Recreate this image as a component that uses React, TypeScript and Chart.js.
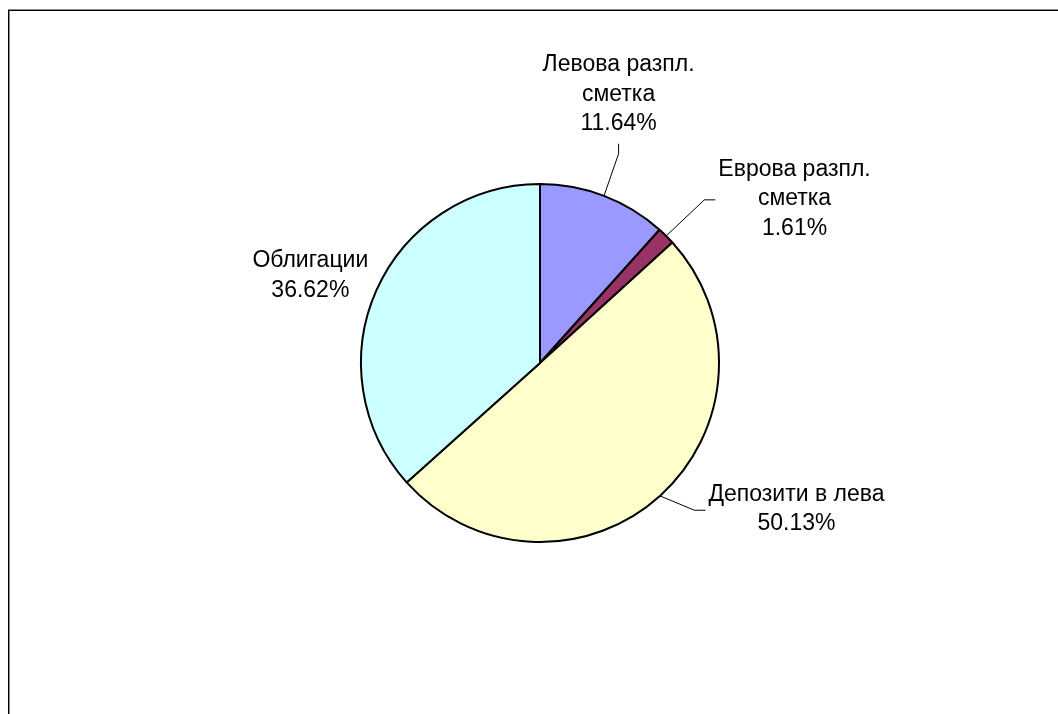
import React, { useEffect, useRef } from "react";
import { Chart, registerables } from "chart.js";

Chart.register(...registerables);

// ---- data ----
const CATEGORIES: string[][] = [
  ["Левова разпл.", "сметка"],
  ["Еврова разпл.", "сметка"],
  ["Депозити в лева"],
  ["Облигации"],
];
const VALUES: number[] = [11.64, 1.61, 50.13, 36.62];
const COLORS: string[] = ["#9999FF", "#993366", "#FFFFCC", "#CCFFFF"];

// ---- label layout (text block centre relative to pie centre, in radius units) ----
const LABEL_LAYOUT = [
  { cx: 0.439, cy: -1.5, leader: "bottom" },
  { cx: 1.422, cy: -0.917, leader: "left" },
  { cx: 1.433, cy: 0.817, leader: "left" },
  { cx: -1.283, cy: -0.489, leader: "none" },
];
const FONT = "23px 'Liberation Sans', Arial, sans-serif";
const LINE_H = 29.5;

const framePlugin = {
  id: "frame",
  beforeDraw(chart: any) {
    const { ctx, width, height } = chart;
    ctx.save();
    ctx.fillStyle = "#ffffff";
    ctx.fillRect(0, 0, width, height);
    ctx.fillStyle = "#888888";
    ctx.fillRect(8, 9, width - 8, 1);
    ctx.fillRect(9, 10, 1, height - 10);
    ctx.fillStyle = "#000000";
    ctx.fillRect(8, 10, width - 8, 1);
    ctx.fillRect(8, 10, 1, height - 10);
    ctx.restore();
  },
};

const labelPlugin = {
  id: "pieLabels",
  afterDatasetsDraw(chart: any) {
    const ctx = chart.ctx;
    const meta = chart.getDatasetMeta(0);
    ctx.save();
    ctx.font = FONT;
    ctx.fillStyle = "#000";
    ctx.strokeStyle = "#000";
    ctx.lineWidth = 1;
    ctx.textAlign = "center";
    ctx.textBaseline = "middle";
    meta.data.forEach((arc: any, i: number) => {
      const { x, y, startAngle, endAngle, outerRadius } = arc.getProps(
        ["x", "y", "startAngle", "endAngle", "outerRadius"],
        true
      );
      const mid = (startAngle + endAngle) / 2;
      const lines = [...CATEGORIES[i], VALUES[i].toFixed(2) + "%"];
      const L = LABEL_LAYOUT[i];
      const tx = x + L.cx * outerRadius;
      const ty = y + L.cy * outerRadius;
      const n = lines.length;
      lines.forEach((t, k) => ctx.fillText(t, tx, ty + (k - (n - 1) / 2) * LINE_H));
      if (L.leader !== "none") {
        const sx = x + Math.cos(mid) * outerRadius;
        const sy = y + Math.sin(mid) * outerRadius;
        let ex: number, ey: number, bx: number, by: number;
        if (L.leader === "bottom") {
          ex = tx;
          ey = ty + (n * LINE_H) / 2 + 5;
          bx = ex;
          by = ey + 10;
        } else {
          const w = Math.max(...lines.map((t) => ctx.measureText(t).width));
          ex = tx - w / 2 - 3;
          ey = ty + 1;
          bx = ex - 11;
          by = ey;
        }
        ctx.beginPath();
        ctx.moveTo(sx, sy);
        ctx.lineTo(bx, by);
        ctx.lineTo(ex, ey);
        ctx.stroke();
      }
    });
    ctx.restore();
  },
};

export default function App() {
  const ref = useRef<HTMLCanvasElement>(null);
  useEffect(() => {
    if (!ref.current) return;
    const chart = new Chart(ref.current, {
      type: "pie",
      data: {
        labels: CATEGORIES.map((c) => c.join(" ")),
        datasets: [
          {
            data: VALUES,
            backgroundColor: COLORS,
            borderColor: "#000000",
            borderWidth: 2,
          },
        ],
      },
      options: {
        responsive: false,
        animation: false,
        layout: { padding: { left: 360, right: 338, top: 183, bottom: 171 } },
        plugins: {
          legend: { display: false },
          tooltip: { enabled: false },
        },
      },
      plugins: [framePlugin, labelPlugin],
    });
    return () => chart.destroy();
  }, []);
  return (
    <div style={{ position: "fixed", left: 0, top: 0, width: 1058, height: 714 }}>
      <canvas ref={ref} width={1058} height={714} />
    </div>
  );
}
